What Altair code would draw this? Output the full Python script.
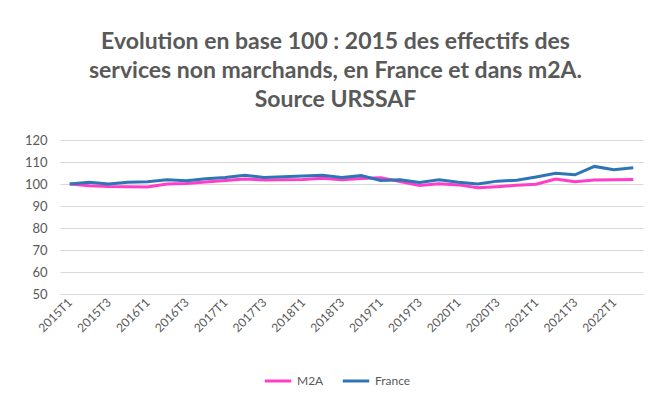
import altair as alt
import pandas as pd

quarters = [f"{y}T{q}" for y in range(2015, 2023) for q in range(1, 5)][:30]
france = [100, 100.8, 100, 100.8, 101, 101.9, 101.5, 102.4, 103, 104, 103, 103.3,
          103.6, 104, 103, 103.8, 101.6, 101.9, 100.7, 101.9, 100.8, 100, 101.3,
          101.7, 103.2, 104.9, 104.2, 108, 106.5, 107.4]
m2a = [100, 99.2, 98.9, 98.8, 98.6, 100, 100.2, 100.9, 101.6, 102.3, 101.8, 101.9,
       102.1, 102.6, 101.9, 102.5, 102.8, 101.1, 99.3, 100.1, 99.6, 98.3, 98.8,
       99.4, 99.9, 102.3, 101, 101.8, 101.9, 102]
series = ["M2A", "France"]
colors = ["#FF3DC8", "#2E75B6"]
y_ticks = [50, 60, 70, 80, 90, 100, 110, 120]
title_lines = ["Evolution en base 100 : 2015 des effectifs des",
               "services non marchands, en France et dans m2A.",
               "Source URSSAF"]

rows = []
for i, q in enumerate(quarters):
    rows.append({"quarter": q, "serie": "M2A", "value": m2a[i], "order": 0})
    rows.append({"quarter": q, "serie": "France", "value": france[i], "order": 1})
df = pd.DataFrame(rows)

FONT = "Lato"
GRAY = "#595959"

chart = alt.Chart(df).mark_line(strokeWidth=3).encode(
    x=alt.X("quarter:N", sort=quarters, title=None,
            scale=alt.Scale(paddingInner=0, paddingOuter=0.5),
            axis=alt.Axis(values=quarters[::2], labelAngle=-45, labelAlign="right",
                          labelBaseline="middle", labelFontSize=12, labelColor=GRAY,
                          labelFont=FONT, ticks=False, domain=True, domainColor="#D9D9D9",
                          grid=False, labelPadding=6)),
    y=alt.Y("value:Q", title=None,
            scale=alt.Scale(domain=[50, 120], nice=False, zero=False),
            axis=alt.Axis(values=y_ticks, labelFontSize=13, labelColor=GRAY,
                          labelFont=FONT, ticks=False, domain=False, grid=True,
                          gridColor="#D9D9D9", labelPadding=13)),
    color=alt.Color("serie:N", sort=series,
                    scale=alt.Scale(domain=series, range=colors),
                    legend=alt.Legend(title=None, orient="none", direction="horizontal",
                                      legendX=203, legendY=226, symbolType="stroke",
                                      symbolStrokeWidth=3, symbolSize=700,
                                      labelFontSize=12, labelColor=GRAY, labelFont=FONT,
                                      columnPadding=12)),
    order="order:Q",
    detail="serie:N",
).properties(
    width=583,
    height=154,
    title=alt.TitleParams(text=title_lines, fontSize=23, font=FONT, fontWeight="bold",
                          color=GRAY, anchor="middle", dx=-16, lineHeight=29, offset=22),
    autosize=alt.AutoSizeParams(type="none"),
    padding={"left": 52, "top": 132, "right": 11, "bottom": 99},
).configure_view(stroke=None)

chart.save("out.html", embed_options={"renderer": "svg", "actions": False})
